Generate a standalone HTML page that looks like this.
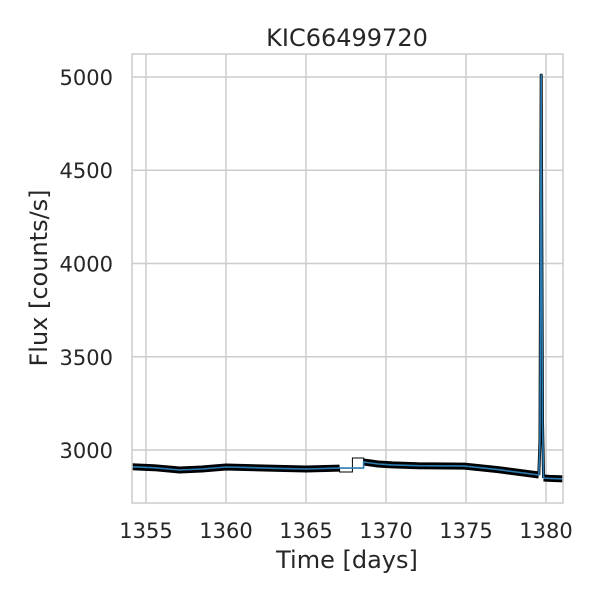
<!DOCTYPE html>
<html><head><meta charset="utf-8"><style>
body{margin:0;background:#fff;}
svg text{font-family:"DejaVu Sans","Liberation Sans",sans-serif;fill:#262626;}
</style></head><body>
<svg id="chart" width="600" height="600" xmlns="http://www.w3.org/2000/svg">
<g id="grid"></g>
<g id="series"></g>
<rect x="132" y="54" width="431" height="449" fill="none" stroke="#cccccc" stroke-width="1.5"/>
<g id="ticks"></g>
<text x="347" y="46" font-size="24" text-anchor="middle">KIC66499720</text>
<text x="347" y="568" font-size="24" text-anchor="middle">Time [days]</text>
<text transform="translate(47,278) rotate(-90)" font-size="24" text-anchor="middle">Flux [counts/s]</text>
</svg>
<script>
const xTicks=[1355,1360,1365,1370,1375,1380];
const yTicks=[3000,3500,4000,4500,5000];
const times=[1354.1,1355.5,1357.1,1358.5,1360,1361.5,1363,1365,1367.1,1368.6,1369.5,1370.4,1372,1374.9,1377,1379.55,1379.62,1379.7,1379.78,1379.85,1380.2,1381.1];
const flux=[2910,2905,2893,2898,2909,2906,2902,2898,2903,2936,2925,2920,2916,2914,2895,2866,3050,5010,3150,2850,2848,2845];
const gapTimes=[1367.1,1367.9,1367.9,1368.6,1368.6];
const gapFlux=[2882,2882,2957,2957,2936];
const X0=1354.125,X1=1381.06,Y0=2716,Y1=5123;
const L=132,R=563,T=54,B=503;
const sx=t=>L+(t-X0)/(X1-X0)*(R-L);
const sy=f=>B-(f-Y0)/(Y1-Y0)*(B-T);
const NS="http://www.w3.org/2000/svg";
const grid=document.getElementById('grid'),ticks=document.getElementById('ticks'),series=document.getElementById('series');
function mk(tag,attrs,parent){const e=document.createElementNS(NS,tag);for(const k in attrs)e.setAttribute(k,attrs[k]);parent.appendChild(e);return e;}
xTicks.forEach(v=>{const x=sx(v);
 const g=mk('line',{x1:x,x2:x,y1:T,y2:B,stroke:'#cccccc','stroke-width':1.5},grid);
 
 
 const t=mk('text',{x:x,y:538,'font-size':21,'text-anchor':'middle'},ticks);t.textContent=v;
 
 });
yTicks.forEach(v=>{const y=sy(v);
 const g=mk('line',{x1:L,x2:R,y1:y,y2:y,stroke:'#cccccc','stroke-width':1.5},grid);
 
 
 const t=mk('text',{x:113,y:y+8,'font-size':21,'text-anchor':'end'},ticks);t.textContent=v;
 
 });
const pts=(ts,fs)=>ts.map((t,i)=>sx(t).toFixed(1)+','+sy(fs[i]).toFixed(1)).join(' ');
const spikeStart=15,spikeEnd=19;
const bandSegs=[[0,9],[9,spikeStart+1],[spikeEnd,times.length]];
bandSegs.forEach(([a,b])=>{
 const p=mk('polyline',{points:pts(times.slice(a,b),flux.slice(a,b)),fill:'none',stroke:'#000','stroke-width':7,'stroke-linejoin':'round'},series);
 
 });
const sp=mk('polyline',{points:pts(times.slice(spikeStart,spikeEnd+1),flux.slice(spikeStart,spikeEnd+1)),fill:'none',stroke:'#000','stroke-width':3,'stroke-linejoin':'round'},series);


const gp=mk('polyline',{points:pts([times[8]].concat(gapTimes),[flux[8]].concat(gapFlux)),fill:'none',stroke:'#000','stroke-width':1},series);


const bt=times.slice(0,9).concat([times[9],times[9]]).concat(times.slice(9));
const bf=flux.slice(0,9).concat([flux[8],flux[9]]).concat(flux.slice(9));
const bl=mk('polyline',{points:pts(bt,bf),fill:'none',stroke:'#2b7bb3','stroke-width':1.6,'stroke-linejoin':'round'},series);


</script>
</body></html>
